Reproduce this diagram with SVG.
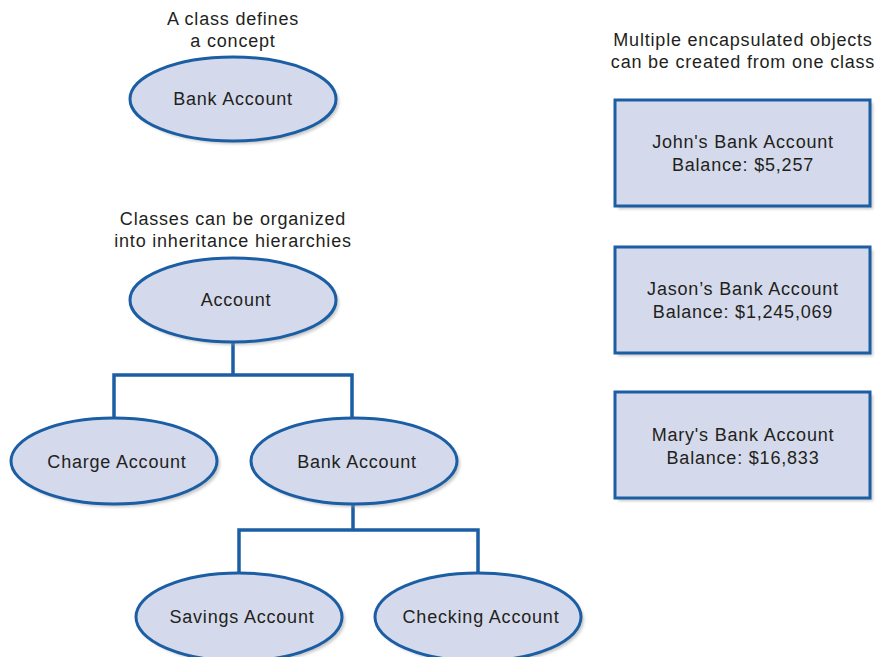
<svg xmlns="http://www.w3.org/2000/svg" width="878" height="657" viewBox="0 0 878 657">
  <defs>
    <filter id="soft" x="-10%" y="-10%" width="130%" height="130%">
      <feGaussianBlur stdDeviation="1.5"/>
    </filter>
  </defs>
  <style>
    .shape { fill: #d4daeb; stroke: #1c5ea4; stroke-width: 3; }
    .shadow { fill: #9a9a9a; opacity: 0.55; filter: url(#soft); }
    .label { font-family: "Liberation Sans", Arial, sans-serif; font-size: 18px; letter-spacing: 0.8px; fill: #231f20; text-anchor: middle; }
    .caption { font-family: "Liberation Sans", Arial, sans-serif; font-size: 18px; letter-spacing: 0.8px; fill: #231f20; text-anchor: middle; }
    .link { fill: none; stroke: #1c5ea4; stroke-width: 3.5; stroke-linejoin: miter; }
  </style>
  <rect width="878" height="657" fill="#ffffff"/>

  <!-- captions -->
  <text class="caption" x="233" y="25">A class defines</text>
  <text class="caption" x="233" y="47">a concept</text>
  <text class="caption" x="233" y="225">Classes can be organized</text>
  <text class="caption" x="233" y="247">into inheritance hierarchies</text>
  <text class="caption" x="743" y="46">Multiple encapsulated objects</text>
  <text class="caption" x="743" y="68">can be created from one class</text>

  <!-- hierarchy connectors -->
  <g id="connectors">
    <polyline class="link" points="114,420 114,375 352,375 352,420"/>
    <line class="link" x1="233" y1="342" x2="233" y2="375"/>
    <polyline class="link" points="239,575 239,530 478,530 478,575"/>
    <line class="link" x1="353" y1="504" x2="353" y2="530"/>
  </g>

  <g id="concept-bank-account">
    <ellipse class="shadow" cx="236" cy="102" rx="103" ry="42"/>
    <ellipse class="shape" cx="233" cy="99" rx="103" ry="42"/>
    <text class="label" x="233" y="105">Bank Account</text>
  </g>

  <g id="account">
    <ellipse class="shadow" cx="236" cy="303" rx="103" ry="42"/>
    <ellipse class="shape" cx="233" cy="300" rx="103" ry="42"/>
    <text class="label" x="236" y="306">Account</text>
  </g>

  <g id="charge-account">
    <ellipse class="shadow" cx="117" cy="464" rx="103" ry="43"/>
    <ellipse class="shape" cx="114" cy="461" rx="103" ry="43"/>
    <text class="label" x="117" y="468">Charge Account</text>
  </g>

  <g id="bank-account">
    <ellipse class="shadow" cx="357" cy="464" rx="103" ry="43"/>
    <ellipse class="shape" cx="354" cy="461" rx="103" ry="43"/>
    <text class="label" x="357" y="468">Bank Account</text>
  </g>

  <g id="savings-account">
    <ellipse class="shadow" cx="242" cy="620" rx="103" ry="44"/>
    <ellipse class="shape" cx="239" cy="617" rx="103" ry="44"/>
    <text class="label" x="242" y="623">Savings Account</text>
  </g>

  <g id="checking-account">
    <ellipse class="shadow" cx="481" cy="620" rx="103" ry="44"/>
    <ellipse class="shape" cx="478" cy="617" rx="103" ry="44"/>
    <text class="label" x="481" y="623">Checking Account</text>
  </g>

  <g id="johns-account">
    <rect class="shadow" x="618" y="103" width="255" height="106"/>
    <rect class="shape" x="615" y="100" width="255" height="106"/>
    <text class="label" x="743" y="148">John's Bank Account</text>
    <text class="label" x="743" y="171">Balance: $5,257</text>
  </g>

  <g id="jasons-account">
    <rect class="shadow" x="618" y="250" width="255" height="106"/>
    <rect class="shape" x="615" y="247" width="255" height="106"/>
    <text class="label" x="743" y="295">Jason’s Bank Account</text>
    <text class="label" x="743" y="318">Balance: $1,245,069</text>
  </g>

  <g id="marys-account">
    <rect class="shadow" x="618" y="395" width="255" height="106"/>
    <rect class="shape" x="615" y="392" width="255" height="106"/>
    <text class="label" x="743" y="441">Mary's Bank Account</text>
    <text class="label" x="743" y="464">Balance: $16,833</text>
  </g>
</svg>
